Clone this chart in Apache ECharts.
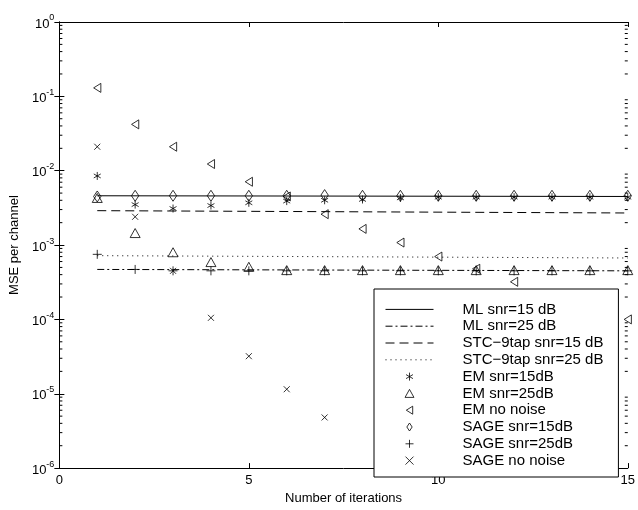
<!DOCTYPE html>
<html>
<head>
<meta charset="utf-8">
<script src="https://cdn.jsdelivr.net/npm/echarts@6/dist/echarts.min.js"></script>
<style>html,body{margin:0;padding:0;background:#fff}#c{width:638px;height:510px}</style>
</head>
<body>
<div id="c"></div>
<script>
// ---- data ----
var iterations = [1,2,3,4,5,6,7,8,9,10,11,12,13,14,15];
var lineX = [1, 15];
var mlSnr15 = [0.0046, 0.0045];
var mlSnr25 = [0.00047, 0.00045];
var stcSnr15 = [0.0029, 0.0027];
var stcSnr25 = [0.00072, 0.00067];
var emSnr15 = [0.0085,0.0035,0.0031,0.0034,0.0037,0.0039,0.0040,0.0041,0.0043,0.0044,0.0044,0.0044,0.0044,0.0044,0.0044];
var emSnr25 = [0.0043,0.00145,0.0008,0.00059,0.00051,0.00046,0.00046,0.00046,0.00046,0.00046,0.00046,0.00046,0.00046,0.00046,0.00046];
var emNoNoise = [0.13,0.042,0.021,0.0123,0.0071,0.0045,0.0026,0.00165,0.00108,0.0007,0.00048,0.00032,null,null,0.0001];
var sageSnr15 = [0.0045,0.0046,0.0046,0.0046,0.0046,0.0046,0.0047,0.0046,0.0046,0.0046,0.0046,0.0046,0.0046,0.0046,0.0046];
var sageSnr25 = [0.00075,0.00047,0.00045,0.00045,0.00045,0.00045,0.00045,0.00045,0.00045,0.00045,0.00045,0.00045,0.00045,0.00045,0.00045];
var sageNoNoise = [0.021,0.0024,0.00045,0.000105,0.000032,0.0000115,0.0000048,null,null,null,null,null,null,null,null];
var xTicks = [0, 5, 10, 15];
var yDecades = [-6, -5, -4, -3, -2, -1, 0];
var seriesNames = ['ML snr=15 dB','ML snr=25 dB','STC\u22129tap snr=15 dB','STC\u22129tap snr=25 dB','EM snr=15dB','EM snr=25dB','EM no noise','SAGE snr=15dB','SAGE snr=25dB','SAGE no noise'];

var FONT = 'Liberation Sans, Arial, Helvetica, sans-serif';
function pairs(xs, ys){ var o=[]; for(var i=0;i<xs.length;i++){ o.push([xs[i], ys[i]]); } return o; }
// log minor tick positions (2..9 per decade)
var minorTicks = [];
for (var d = yDecades[0]; d < yDecades[yDecades.length-1]; d++) {
  for (var m = 2; m <= 9; m++) minorTicks.push([0, m * Math.pow(10, d)]);
}

var SYM = {
  star: 'path://M0,-1L0,1M-0.87,-0.5L0.87,0.5M-0.87,0.5L0.87,-0.5',
  tri: 'path://M0,-1L1,0.8L-1,0.8Z',
  left: 'path://M0.8,-1L-0.8,0L0.8,1Z',
  dia: 'path://M0,-1.2L0.8,0L0,1.2L-0.8,0Z',
  plus: 'path://M0,-1L0,1M-1,0L1,0',
  cross: 'path://M-1,-1L1,1M-1,1L1,-1'
};
var open = {color: 'none', borderColor: '#000', borderWidth: 1};
var lineTypes = ['solid', [7,3,2,3], [9,5], [1,4]];
var scatterSyms = [SYM.star, SYM.tri, SYM.left, SYM.dia, SYM.plus, SYM.cross];

function lineSeries(name, ys, type){
  return {name: name, type: 'line', data: pairs(lineX, ys), symbol: 'none', silent: true,
    lineStyle: {color: '#000', width: 1, type: type}, itemStyle: {color: '#000'}, z: 2};
}
function scat(name, ys, symbol, size){
  return {name: name, type: 'scatter', data: pairs(iterations, ys), symbol: symbol, symbolSize: size,
    symbolKeepAspect: true, itemStyle: open, z: 3, silent: true};
}

var legendData = seriesNames.map(function(n, i){
  if (i < 4) {
    return {name: n, itemStyle: {opacity: 0, color: 'transparent', borderColor: 'transparent', borderWidth: 0},
      lineStyle: {color: '#000', width: 1, type: lineTypes[i]}};
  }
  return {name: n, icon: scatterSyms[i - 4], itemStyle: open};
});

var chart = echarts.init(document.getElementById('c'), null, {renderer: 'canvas'});
chart.setOption({
  animation: false,
  backgroundColor: '#fff',
  textStyle: {fontFamily: FONT, color: '#000'},
  grid: {left: 53, right: 9, top: 22, bottom: 33},
  legend: {
    data: legendData,
    orient: 'vertical',
    left: 374, top: 289,
    padding: [12, 15, 8, 11],
    itemWidth: 48, itemHeight: 8, itemGap: 0,
    symbolKeepAspect: true,
    backgroundColor: '#fff', borderColor: '#000', borderWidth: 1,
    textStyle: {fontFamily: FONT, fontSize: 15, color: '#000', lineHeight: 16.8, padding: [0,0,0,24]},
    selectedMode: false, z: 10
  },
  xAxis: [{
    type: 'value', min: 0, max: 15, interval: 5,
    name: 'Number of iterations', nameLocation: 'middle', nameGap: 20,
    nameTextStyle: {fontFamily: FONT, fontSize: 13, color: '#000'},
    axisLine: {lineStyle: {color: '#000', width: 1}},
    axisTick: {inside: true, length: 5, lineStyle: {color: '#000'}},
    axisLabel: {fontFamily: FONT, fontSize: 13, color: '#000', margin: 6},
    splitLine: {show: false}
  }, {
    type: 'value', min: 0, max: 15, interval: 5, position: 'top',
    axisLine: {lineStyle: {color: '#000', width: 1}},
    axisTick: {inside: true, length: 5, lineStyle: {color: '#000'}},
    axisLabel: {show: false}, splitLine: {show: false}
  }],
  yAxis: [{
    type: 'log', logBase: 10, min: 1e-6, max: 1, interval: 1,
    name: 'MSE per channel', nameLocation: 'middle', nameGap: 32, nameRotate: 90,
    nameTextStyle: {fontFamily: FONT, fontSize: 13, color: '#000'},
    axisLine: {show: true, lineStyle: {color: '#000', width: 1}},
    axisTick: {show: true, inside: true, length: 5, lineStyle: {color: '#000'}},
    axisLabel: {
      margin: 5,
      formatter: function(v){ var e = Math.round(Math.log(v)/Math.LN10); return '{b|10}{s|' + e + '}'; },
      rich: {
        b: {fontFamily: FONT, fontSize: 13, color: '#000', verticalAlign: 'bottom'},
        s: {fontFamily: FONT, fontSize: 9, color: '#000', verticalAlign: 'bottom', padding: [0,0,8,0]}
      }
    },
    splitLine: {show: false}
  }, {
    type: 'log', logBase: 10, min: 1e-6, max: 1, interval: 1, position: 'right',
    axisLine: {show: true, lineStyle: {color: '#000', width: 1}},
    axisTick: {show: true, inside: true, length: 5, lineStyle: {color: '#000'}},
    axisLabel: {show: false}, splitLine: {show: false}
  }],
  series: [
    lineSeries(seriesNames[0], mlSnr15, lineTypes[0]),
    lineSeries(seriesNames[1], mlSnr25, lineTypes[1]),
    lineSeries(seriesNames[2], stcSnr15, lineTypes[2]),
    lineSeries(seriesNames[3], stcSnr25, lineTypes[3]),
    scat(seriesNames[4], emSnr15, SYM.star, 8),
    scat(seriesNames[5], emSnr25, SYM.tri, 10),
    scat(seriesNames[6], emNoNoise, SYM.left, 9),
    scat(seriesNames[7], sageSnr15, SYM.dia, 11),
    scat(seriesNames[8], sageSnr25, SYM.plus, 9),
    scat(seriesNames[9], sageNoNoise, SYM.cross, 6),
    {
      type: 'custom', name: 'minor', silent: true, z: 1,
      data: minorTicks,
      renderItem: function(params, api){
        var v = api.value(1);
        var a = api.coord([0, v]);
        var b = api.coord([15, v]);
        return {type: 'group', children: [
          {type: 'line', shape: {x1: a[0], y1: a[1], x2: a[0] + 3, y2: a[1]}, style: {stroke: '#000', lineWidth: 1}},
          {type: 'line', shape: {x1: b[0] - 3, y1: b[1], x2: b[0], y2: b[1]}, style: {stroke: '#000', lineWidth: 1}}
        ]};
      }
    }
  ]
});
</script>
</body>
</html>
